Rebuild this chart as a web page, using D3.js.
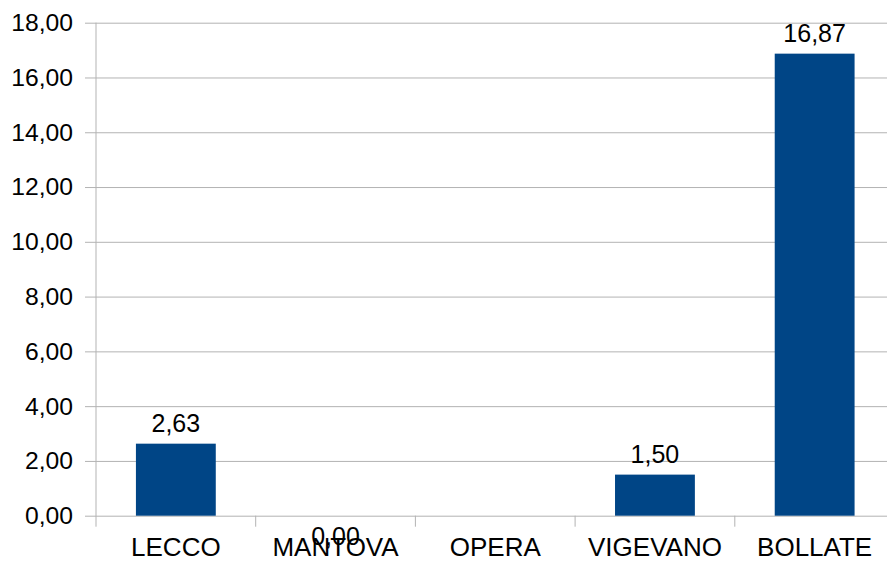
<!DOCTYPE html>
<html><head><meta charset="utf-8">
<script src="https://cdn.jsdelivr.net/npm/d3@7"></script>
<style>body{margin:0;background:#fff}svg{display:block}text{font-family:"Liberation Sans",Arial,sans-serif;fill:#000}</style>
</head><body><svg id="c" width="887" height="564"></svg>
<script>
const categories = ["LECCO","MANTOVA","OPERA","VIGEVANO","BOLLATE"];
const values = [2.63, 0.00, null, 1.50, 16.87];
const yTicks = [0,2,4,6,8,10,12,14,16,18];

(function(){
const svg = d3.select("#c");
const pL = 96, pR = 894.5, pT = 22.7, pB = 515.7;
const x = d3.scaleBand().domain(categories).range([pL, pR]).padding(0);
const y = d3.scaleLinear().domain([0, 18]).range([pB, pT]);
const fmt = v => d3.format(".2f")(v).replace(".", ",");
const grid = "#b3b3b3";

// gridlines + y ticks
const yAxis = d3.axisLeft(y).tickValues(yTicks).tickSize(-(pR - pL)).tickFormat(fmt).tickPadding(12);
const gy = svg.append("g").attr("transform", `translate(${pL},0)`).call(yAxis);
gy.select(".domain").remove();
gy.selectAll(".tick line").attr("stroke", grid).attr("x1", -11).attr("stroke-width", 1);
gy.selectAll(".tick text").attr("font-size", 24.7).attr("x", -23).style("font-family", '"Liberation Sans",Arial,sans-serif').attr("fill", "#000");

// y axis line
svg.append("line").attr("x1", pL).attr("x2", pL).attr("y1", pT).attr("y2", pB + 11).attr("stroke", grid);

// x axis ticks at band boundaries
const bounds = categories.map(c => x(c)).concat([x(categories[categories.length-1]) + x.bandwidth()]);
svg.selectAll("line.xt").data(bounds.slice(1)).enter().append("line")
  .attr("x1", d => d).attr("x2", d => d).attr("y1", pB).attr("y2", pB + 11).attr("stroke", grid);

// bars
const data = categories.map((c, i) => ({c, v: values[i]}));
const bw = x.bandwidth() / 2;
svg.selectAll("rect.bar").data(data.filter(d => d.v !== null)).enter().append("rect")
  .attr("x", d => x(d.c) + x.bandwidth()/2 - bw/2)
  .attr("width", bw)
  .attr("y", d => y(d.v))
  .attr("height", d => y(0) - y(d.v))
  .attr("fill", "#004586");

// category labels
svg.selectAll("text.cat").data(categories).enter().append("text")
  .attr("x", d => x(d) + x.bandwidth()/2).attr("y", 556)
  .attr("text-anchor", "middle").attr("font-size", 26).text(d => d);

// value labels
svg.selectAll("text.val").data(data.filter(d => d.v !== null)).enter().append("text")
  .attr("x", d => x(d.c) + x.bandwidth()/2)
  .attr("y", d => d.v > 0 ? y(d.v) - 12 : y(0) + 29)
  .attr("text-anchor", "middle").attr("font-size", 25).text(d => fmt(d.v));
})();
</script></body></html>
